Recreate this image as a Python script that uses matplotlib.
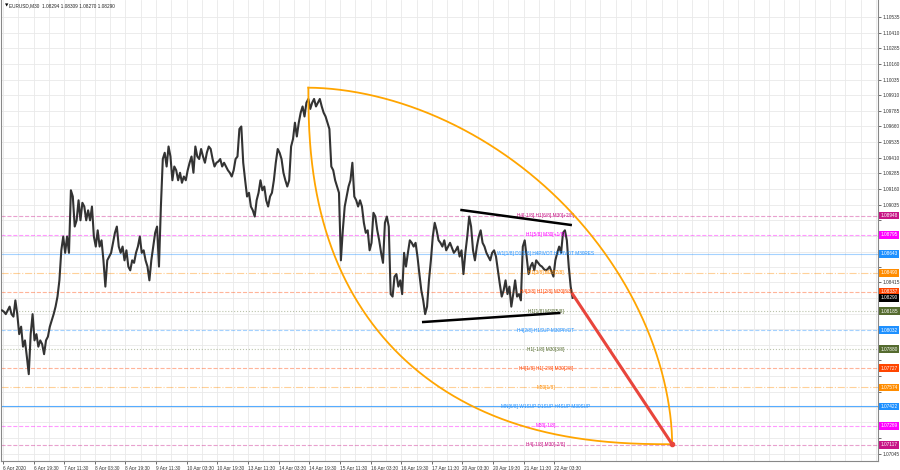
import numpy as np
import matplotlib
matplotlib.use('Agg')
import matplotlib.pyplot as plt

plt.rcParams['font.family'] = ['Liberation Sans', 'DejaVu Sans']

# EURUSD M30, closes (2 bars per point)
week1 = [1.0819, 1.0818, 1.0816, 1.0819, 1.0822, 1.0816, 1.0814, 1.0827, 1.0816, 1.0800,
         1.0806, 1.0790, 1.0795, 1.0782, 1.0768, 1.0800, 1.0816, 1.0795, 1.0800, 1.0790,
         1.0795, 1.0792, 1.0784, 1.0795, 1.0798, 1.0806, 1.0811, 1.0816, 1.0822, 1.0830,
         1.0843, 1.0867, 1.0878, 1.0865, 1.0878, 1.0865, 1.0915, 1.0910, 1.0886, 1.0891,
         1.0907, 1.0891, 1.0905, 1.0902, 1.0891, 1.0899, 1.0891, 1.0902, 1.0878, 1.0870,
         1.0883, 1.0870, 1.0875, 1.0859, 1.0838, 1.0859, 1.0862, 1.0865, 1.0873, 1.0881,
         1.0886, 1.0870, 1.0865, 1.0870, 1.0859, 1.0867, 1.0854, 1.0851, 1.0859, 1.0857,
         1.0865, 1.0870, 1.0878, 1.0865, 1.0867, 1.0859, 1.0854, 1.0843, 1.0859, 1.0870,
         1.0881, 1.0886, 1.0854, 1.0902, 1.0940, 1.0945, 1.0934, 1.0950, 1.0942, 1.0923,
         1.0934, 1.0931, 1.0923, 1.0929, 1.0921, 1.0926, 1.0923, 1.0931, 1.0937, 1.0942,
         1.0929, 1.0950, 1.0942, 1.0940, 1.0948, 1.0942, 1.0937, 1.0945, 1.0950, 1.0948,
         1.0940, 1.0934, 1.0937, 1.0938, 1.0940, 1.0934, 1.0937, 1.0934, 1.0931, 1.0929]
week2 = [1.0926, 1.0931, 1.0940, 1.0942, 1.0964, 1.0966, 1.0937, 1.0923, 1.0910, 1.0913,
         1.0902, 1.0899, 1.0894, 1.0907, 1.0913, 1.0923, 1.0915, 1.0918, 1.0907, 1.0902,
         1.0910, 1.0913, 1.0923, 1.0937, 1.0948, 1.0945, 1.0940, 1.0929, 1.0923, 1.0918,
         1.0923, 1.0950, 1.0956, 1.0969, 1.0958, 1.0969, 1.0977, 1.0982, 1.0974, 1.0985,
         1.0988, 1.0980, 1.0985, 1.0988, 1.0982, 1.0985, 1.0988, 1.0982, 1.0977, 1.0974,
         1.0969, 1.0964, 1.0934, 1.0931, 1.0923, 1.0918, 1.0913, 1.0859, 1.0883, 1.0902,
         1.0910, 1.0918, 1.0923, 1.0937, 1.0910, 1.0907, 1.0902, 1.0907, 1.0902, 1.0889,
         1.0881, 1.0883, 1.0867, 1.0873, 1.0897, 1.0894, 1.0883, 1.0875, 1.0865, 1.0857,
         1.0889, 1.0894, 1.0886, 1.0832, 1.0830, 1.0846, 1.0848, 1.0838, 1.0843, 1.0832,
         1.0865, 1.0854, 1.0865, 1.0875, 1.0873, 1.0870, 1.0873, 1.0862, 1.0848, 1.0835,
         1.0827, 1.0816, 1.0822, 1.0843, 1.0859, 1.0878, 1.0889, 1.0883, 1.0875, 1.0873,
         1.0870, 1.0875, 1.0867, 1.0870, 1.0873, 1.0869, 1.0865, 1.0867]
week3 = [1.0870, 1.0862, 1.0867, 1.0848, 1.0865, 1.0878, 1.0894, 1.0886, 1.0867, 1.0859,
         1.0870, 1.0878, 1.0883, 1.0873, 1.0870, 1.0865, 1.0862, 1.0859, 1.0865, 1.0867,
         1.0862, 1.0851, 1.0840, 1.0830, 1.0835, 1.0843, 1.0832, 1.0838, 1.0822, 1.0832,
         1.0843, 1.0830, 1.0832, 1.0827, 1.0870, 1.0875, 1.0862, 1.0848, 1.0854, 1.0857,
         1.0851, 1.0859, 1.0857, 1.0855, 1.0854, 1.0852, 1.0851, 1.0852, 1.0854, 1.0850,
         1.0846, 1.0859, 1.0865, 1.0870, 1.0865, 1.0881, 1.0883, 1.0875, 1.0854, 1.0838,
         1.0829]

closes = week1 + week2 + week3
bars = np.arange(len(closes)) * 2

# Murrey math levels drawn by the indicator
level_prices = [1.08948, 1.08795, 1.08643, 1.08490, 1.08337, 1.08185, 1.08032,
                1.07880, 1.07727, 1.07574, 1.07422, 1.07269, 1.07117]
level_names = ['H4[-1/8] H1[6/8] M30[+2/8]', 'H1[5/8] M30[+1/8]',
               'W1[1/8] D1[5/8] H4PIVOT H1PIVOT M30RES', 'H1[3/8] M30[7/8]',
               'H4[3/8] H1[2/8] M30[6/8]', 'H1[1/8] M30[5/8]', 'H4[2/8] H1SUP M30PIVOT',
               'H1[-1/8] M30[3/8]', 'H4[1/8] H1[-2/8] M30[2/8]', 'M30[1/8]',
               'MN[6/8] W1SUP D1SUP H4SUP M30SUP', 'M30[-1/8]', 'H4[-1/8] M30[-2/8]']
level_colors = ['#c71585', '#ff00ff', '#1e90ff', '#ff8c00', '#ff4500', '#556b2f', '#1e90ff',
                '#556b2f', '#ff4500', '#ff8c00', '#1e90ff', '#ff00ff', '#c71585']
level_styles = ['--', '--', '-', '-.', '--', ':', '--', ':', '--', '-.', '-', '--', '--']
last_price = 1.08290

price_ticks = [1.07045, 1.07170, 1.07295, 1.07415, 1.07540, 1.07665, 1.07790, 1.07915,
               1.08040, 1.08165, 1.08290, 1.08415, 1.08540, 1.08660, 1.08785, 1.08910,
               1.09035, 1.09160, 1.09285, 1.09410, 1.09535, 1.09660, 1.09785, 1.09910,
               1.10035, 1.10160, 1.10285, 1.10410, 1.10535]
date_labels = ['6 Apr 2020', '6 Apr 19:30', '7 Apr 11:30', '8 Apr 03:30', '8 Apr 19:30',
               '9 Apr 11:30', '10 Apr 03:30', '10 Apr 19:30', '13 Apr 11:30', '14 Apr 03:30',
               '14 Apr 19:30', '15 Apr 11:30', '16 Apr 03:30', '16 Apr 19:30', '17 Apr 11:30',
               '20 Apr 03:30', '20 Apr 19:30', '21 Apr 11:30', '22 Apr 03:30']

# drawing objects (bar index, price)
arc_start = (320, 1.0997)
arc_end = (700, 1.0712)
upper_trend = [(480, 1.08992), (594, 1.08873)]
lower_trend = [(440, 1.08097), (582, 1.08169)]
forecast = [(596, 1.0832), (700, 1.0712)]

fig = plt.figure(figsize=(9, 4.7), dpi=100)
ax = fig.add_axes([1 / 900, 9 / 470, 877 / 900, 461 / 470])
ax.set_xlim(-1, 915)
ax.set_ylim(1.06986, 1.10671)

# grid
tick_bars = [1 + 32 * i for i in range(len(date_labels))]
ax.set_xticks(tick_bars, date_labels, ha='left')
ax.set_xticks([b + 16 for b in tick_bars] + list(range(609, 915, 16)), minor=True)

# price labels hidden behind the level boxes are left blank
boxed = level_prices + [last_price]
tick_text = ['' if min(abs(p - b) for b in boxed) < 0.0007 else f'{p:.5f}' for p in price_ticks]
ax.set_yticks(price_ticks, tick_text)
ax.grid(True, which='both', color='#e9e9e9', lw=0.6, zorder=0)
ax.set_axisbelow(True)

ax.yaxis.tick_right()
ax.tick_params(axis='y', labelsize=3.4, length=2, pad=1.5, colors='#333333', width=0.5)
ax.tick_params(axis='x', which='major', labelsize=3.4, length=2, pad=1.5, colors='#333333', width=0.5)
ax.tick_params(axis='x', which='minor', length=0)
for side in ['left', 'right', 'bottom']:
    ax.spines[side].set_color('#888888')
    ax.spines[side].set_linewidth(0.8)
ax.spines['top'].set_visible(False)

# level lines and their names
for p, name, c, ls in zip(level_prices, level_names, level_colors, level_styles):
    alpha = 0.75 if (ls == '-' and p < 1.08) else 0.4
    ax.axhline(p, color=c, ls=ls, lw=0.8, alpha=alpha, zorder=1)
    ax.text(568, p, name, color=c, fontsize=3.4, ha='center', va='center', zorder=4)
    ax.text(1.003, p, f'{p:.5f}', transform=ax.get_yaxis_transform(), color='white',
            fontsize=3.4, ha='left', va='center', clip_on=False, zorder=6,
            bbox=dict(boxstyle='square,pad=0.3', fc=c, ec='none'))
ax.text(1.003, last_price, f'{last_price:.5f}', transform=ax.get_yaxis_transform(),
        color='white', fontsize=3.4, ha='left', va='center', clip_on=False, zorder=6,
        bbox=dict(boxstyle='square,pad=0.3', fc='black', ec='none'))

# price
ax.plot(bars, closes, color='#333333', lw=1.5, zorder=3)

# trend lines
for line in [upper_trend, lower_trend]:
    ax.plot([line[0][0], line[1][0]], [line[0][1], line[1][1]], color='black', lw=1.8, zorder=5)

# arcs between the top and the target
t = np.linspace(0, np.pi / 2, 300)
dx = arc_end[0] - arc_start[0]
dy = arc_start[1] - arc_end[1]
ax.plot(arc_start[0] + dx * np.sin(t) ** (2 / 1.85), arc_end[1] + dy * np.cos(t) ** (2 / 1.85),
        color='orange', lw=1.3, zorder=5)
ax.plot(arc_end[0] - dx * np.cos(t) ** (2 / 2.4), arc_start[1] - dy * np.sin(t) ** (2 / 2.4),
        color='orange', lw=1.3, zorder=5)

# forecast
ax.plot([forecast[0][0], forecast[1][0]], [forecast[0][1], forecast[1][1]],
        color='#e8453c', lw=2.2, zorder=6)
ax.plot(forecast[1][0], forecast[1][1], 'o', color='#e8453c', ms=3, zorder=6)

ax.text(0.004, 0.992, '\u25bc', transform=ax.transAxes, fontsize=3.2, va='top', ha='left',
        family=['DejaVu Sans'])
ax.text(0.009, 0.992, 'EURUSD,M30  1.08294 1.08309 1.08270 1.08290', transform=ax.transAxes,
        fontsize=3.4, va='top', ha='left', color='#222222')

fig.savefig('out.png', dpi=100)
